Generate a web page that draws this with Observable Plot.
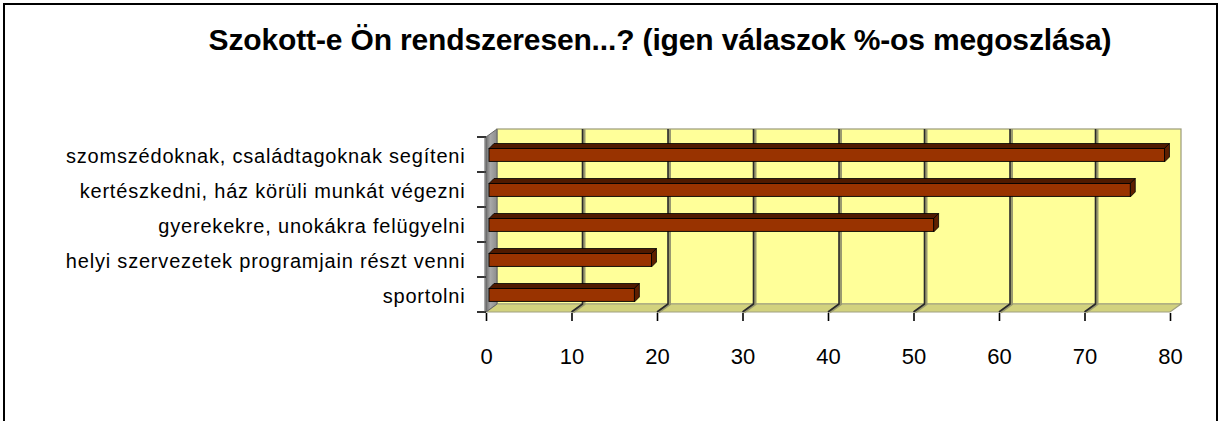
<!DOCTYPE html>
<html><head><meta charset="utf-8">
<script src="https://cdn.jsdelivr.net/npm/d3@7"></script>
<script src="https://cdn.jsdelivr.net/npm/@observablehq/plot@0.6"></script>
<style>
body{margin:0;background:#fff;}
#wrap{position:relative;width:1221px;height:421px;overflow:hidden;font-family:"Liberation Sans",Arial,sans-serif;}
#wrap svg{position:absolute;left:0;top:0;}
#border{position:absolute;left:3px;top:3px;width:1211px;height:460px;border:2px solid #000;}
#title{position:absolute;left:0;width:1320px;top:23px;text-align:center;font-weight:bold;font-size:30px;letter-spacing:-0.15px;color:#000;}
[aria-label="y-axis tick label"] text{letter-spacing:0.8px;}
</style></head><body>
<div id="wrap"><div id="border"></div><div id="title"></div></div>
<script>
const title = "Szokott-e Ön rendszeresen...? (igen válaszok %-os megoszlása)";
const categories = [
  "szomszédoknak, családtagoknak segíteni",
  "kertészkedni, ház körüli munkát végezni",
  "gyerekekre, unokákra felügyelni",
  "helyi szervezetek programjain részt venni",
  "sportolni"
];
const values = [79, 75, 52, 19, 17];
const xTicks = [0, 10, 20, 30, 40, 50, 60, 70, 80];
const xMax = 80;

const data = categories.map((c, i) => ({cat: c, value: values[i]}));

// 3D depth of the plot box and of the bars (pixels)
const DX = 11, DY = -8;
const BX = 5, BY = -5, BOFF = 3;
const BAR_TOP = 11.5, BAR_BOT = 25, BAND = 35.6;

function box3d(index, scales) {
  const x = scales.x, y = scales.y;
  const x0 = x(0), x1 = x(xMax);
  const step = y(categories[1]) - y(categories[0]);
  const yTop = y(categories[0]);
  const yBot = y(categories[categories.length - 1]) + step;
  const g = d3.create("svg:g");
  const defs = g.append("defs");
  const lg = defs.append("linearGradient").attr("id", "wallGrad").attr("x1", 0).attr("x2", 1).attr("y1", 0).attr("y2", 0);
  lg.append("stop").attr("offset", 0).attr("stop-color", "#6e6e6e");
  lg.append("stop").attr("offset", 0.4).attr("stop-color", "#a8a8a8");
  lg.append("stop").attr("offset", 1).attr("stop-color", "#8c8c8c");
  // back wall
  g.append("rect").attr("x", x0 + DX).attr("y", yTop + DY).attr("width", x1 - x0).attr("height", yBot - yTop)
    .attr("fill", "#FFFF99").attr("stroke", "#9a9a7a").attr("stroke-width", 1.2);
  // floor
  g.append("path").attr("d", `M${x0},${yBot}L${x0 + DX},${yBot + DY}L${x1 + DX},${yBot + DY}L${x1},${yBot}Z`)
    .attr("fill", "#D2D27E").attr("stroke", "#a0a080").attr("stroke-width", 1.2);
  // left wall
  g.append("path").attr("d", `M${x0},${yTop}L${x0 + DX},${yTop + DY}L${x0 + DX},${yBot + DY}L${x0},${yBot}Z`)
    .attr("fill", "url(#wallGrad)").attr("stroke", "#666").attr("stroke-width", 1);
  // gridlines on back wall and floor
  for (const t of xTicks) {
    if (t === 0 || t === xMax) continue;
    const xt = x(t);
    g.append("path").attr("d", `M${xt + DX},${yTop + DY}L${xt + DX},${yBot + DY}L${xt},${yBot}`)
      .attr("fill", "none").attr("stroke", "#9a9a70").attr("stroke-width", 3).attr("transform", "translate(1.5,0)");
    g.append("path").attr("d", `M${xt + DX},${yTop + DY}L${xt + DX},${yBot + DY}L${xt},${yBot}`)
      .attr("fill", "none").attr("stroke", "#2a2a2a").attr("stroke-width", 1.6);
  }
  // category boundary ticks on the left
  for (let i = 0; i <= categories.length; i++) {
    const yy = yTop + i * step;
    g.append("line").attr("x1", x0 - 9).attr("x2", x0).attr("y1", yy).attr("y2", yy)
      .attr("stroke", "#000").attr("stroke-width", 1.6);
  }
  g.append("line").attr("x1", x0 - 1).attr("x2", x0 - 1).attr("y1", yTop).attr("y2", yBot)
    .attr("stroke", "#555").attr("stroke-width", 1);
  return g.node();
}

function barFaces(index, scales) {
  const x = scales.x, y = scales.y;
  const g = d3.create("svg:g");
  data.forEach(d => {
    const yb = y(d.cat);
    const top = yb + BAR_TOP, bot = yb + BAR_BOT;
    const xs = x(0) + BOFF, xe = x(d.value) + BOFF;
    g.append("path").attr("d", `M${xs},${top}L${xs + BX},${top + BY}L${xe + BX},${top + BY}L${xe},${top}Z`)
      .attr("fill", "#4f1a00").attr("stroke", "#000").attr("stroke-width", 0.8).attr("stroke-linejoin", "round");
    g.append("path").attr("d", `M${xe},${top}L${xe + BX},${top + BY}L${xe + BX},${bot + BY}L${xe},${bot}Z`)
      .attr("fill", "#5e1f00").attr("stroke", "#000").attr("stroke-width", 0.8).attr("stroke-linejoin", "round");
  });
  return g.node();
}

const plot = Plot.plot({
  width: 1221,
  height: 421,
  marginLeft: 486,
  marginRight: 51,
  marginTop: 135,
  marginBottom: 108,
  style: {fontFamily: '"Liberation Sans", Arial, sans-serif', background: "transparent", color: "#000"},
  x: {domain: [0, xMax], ticks: xTicks},
  y: {domain: categories, padding: 0},
  marks: [
    box3d,
    barFaces,
    Plot.barX(data, {x: "value", y: "cat", fill: "#993300", stroke: "#000", strokeWidth: 0.9,
      insetTop: BAR_TOP, insetBottom: BAND - BAR_BOT, dx: BOFF}),
    Plot.axisX({ticks: xTicks, tickSize: 8, tickPadding: 27, fontSize: 22, label: null, stroke: "#000", strokeWidth: 1.6, tickFormat: d => String(d)}),
    Plot.axisY({tickSize: 0, tickPadding: 21, fontSize: 20, label: null, dy: 2})
  ]
});
document.getElementById("wrap").insertBefore(plot, document.getElementById("border"));
document.getElementById("title").textContent = title;
</script>
</body></html>
